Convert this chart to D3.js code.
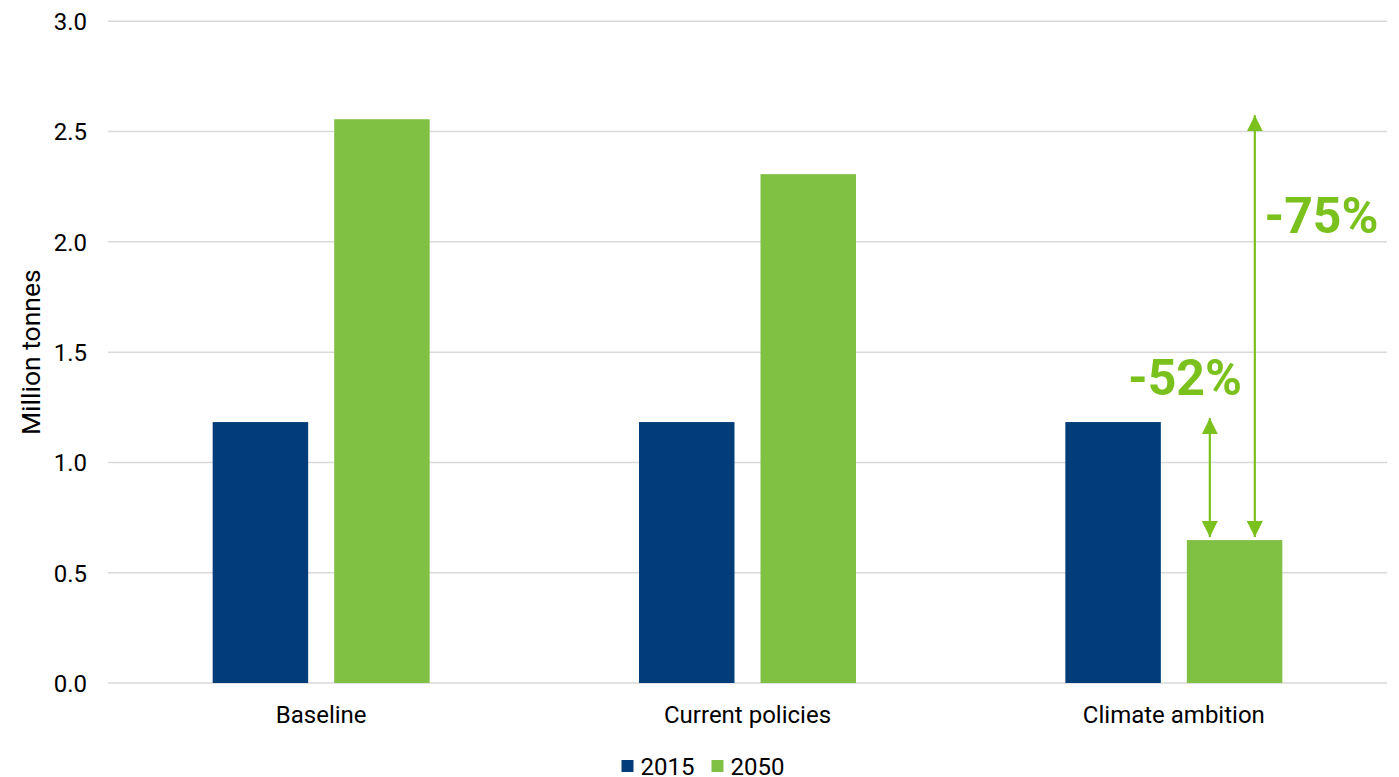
<!DOCTYPE html>
<html>
<head>
<meta charset="utf-8">
<script src="https://cdn.jsdelivr.net/npm/d3@7"></script>
<style>
  html, body { margin: 0; padding: 0; background: #ffffff; }
  svg { display: block; }
  text { font-family: Roboto, "Noto Sans", sans-serif; fill: #000; }
</style>
</head>
<body>
<svg id="chart" width="1399" height="777"></svg>
<script>
// Scenario categories and series
const categories = ["Baseline", "Current policies", "Climate ambition"];
const seriesNames = ["2015", "2050"];
const values2015 = [1.183, 1.183, 1.183];
const values2050 = [2.556, 2.307, 0.648];
const yTicks = [0, 0.5, 1.0, 1.5, 2.0, 2.5, 3.0];
const seriesColors = ["#023D7A", "#80C143"];

// Change annotations on the climate ambition scenario
const changeLabels = ["-52%", "-75%"];

const W = 1399, H = 777;
const margin = { left: 108, right: 12, top: 21.3, bottom: 94 };

const svg = d3.select("#chart");

const x0 = d3.scaleBand()
  .domain(categories)
  .range([margin.left, W - margin.right])
  .paddingInner(0)
  .paddingOuter(0);

const groupWidth = x0.bandwidth() * 0.509;
const x1 = d3.scaleBand()
  .domain(seriesNames)
  .range([0, groupWidth])
  .paddingInner(0.214)
  .paddingOuter(0);

const y = d3.scaleLinear()
  .domain([0, 3])
  .range([H - margin.bottom, margin.top]);

// Gridlines
svg.append("g")
  .selectAll("line")
  .data(yTicks)
  .join("line")
  .attr("x1", margin.left)
  .attr("x2", W - margin.right)
  .attr("y1", d => y(d))
  .attr("y2", d => y(d))
  .attr("stroke", "#d9d9d9")
  .attr("stroke-width", 1.5);

// Y axis labels
const yAxis = d3.axisLeft(y).tickValues(yTicks).tickFormat(d3.format(".1f")).tickSize(0).tickPadding(0);
const yg = svg.append("g").attr("transform", `translate(${87},0)`).call(yAxis);
yg.select(".domain").remove();
yg.selectAll("text")
  .attr("font-family", "Roboto, sans-serif")
  .attr("font-size", 24)
  .attr("fill", "#000")
  .attr("dy", "0.35em");

// Y axis title
svg.append("text")
  .attr("transform", `translate(${39.5},${(y(0) + y(3)) / 2}) rotate(-90)`)
  .attr("text-anchor", "middle")
  .attr("font-size", 26.5)
  .text("Million tonnes");

// Bars
const rows = categories.map((c, i) => ({
  category: c,
  items: [
    { series: seriesNames[0], value: values2015[i] },
    { series: seriesNames[1], value: values2050[i] }
  ]
}));

const groups = svg.append("g")
  .selectAll("g")
  .data(rows)
  .join("g")
  .attr("transform", d => `translate(${x0(d.category) + (x0.bandwidth() - groupWidth) / 2},0)`);

groups.selectAll("rect")
  .data(d => d.items)
  .join("rect")
  .attr("x", d => x1(d.series))
  .attr("width", x1.bandwidth())
  .attr("y", d => y(d.value))
  .attr("height", d => y(0) - y(d.value))
  .attr("fill", (d, i) => seriesColors[i]);

// Category labels
const xAxis = d3.axisBottom(x0).tickSize(0).tickPadding(0);
const xg = svg.append("g").attr("transform", `translate(0,${y(0)})`).call(xAxis);
xg.select(".domain").remove();
xg.selectAll("text")
  .attr("font-family", "Roboto, sans-serif")
  .attr("font-size", 24)
  .attr("fill", "#000")
  .attr("dy", 0)
  .attr("y", 40);

// Legend
const legend = svg.append("g");
const legendX = [621.5, 711.5];
seriesNames.forEach((s, i) => {
  legend.append("rect")
    .attr("x", legendX[i]).attr("y", 760)
    .attr("width", 12).attr("height", 12)
    .attr("fill", seriesColors[i]);
  legend.append("text")
    .attr("x", legendX[i] + 19).attr("y", 775)
    .attr("font-size", 24)
    .text(s);
});

// Change arrows
const annColor = "#7AC11E";
const defs = svg.append("defs");
["start", "end"].forEach(k => {
  defs.append("marker")
    .attr("id", "arrow-" + k)
    .attr("viewBox", "0 0 16 16")
    .attr("refX", 16).attr("refY", 8)
    .attr("markerWidth", 16).attr("markerHeight", 16)
    .attr("markerUnits", "userSpaceOnUse")
    .attr("orient", "auto-start-reverse")
    .append("path")
    .attr("d", "M0,0 L16,8 L0,16 Z")
    .attr("fill", annColor);
});

const climate = categories[2];
const gx = x0(climate) + (x0.bandwidth() - groupWidth) / 2;
const bar2050Left = gx + x1(seriesNames[1]);
const arrows = [
  { x: bar2050Left + 23, from: values2015[2], to: values2050[2], label: changeLabels[0] },
  { x: bar2050Left + 68, from: values2050[0], to: values2050[2], label: changeLabels[1] }
];

arrows.forEach((a, i) => {
  svg.append("line")
    .attr("x1", a.x).attr("x2", a.x)
    .attr("y1", y(a.from) - 4)
    .attr("y2", y(a.to) - 3)
    .attr("stroke", annColor)
    .attr("stroke-width", 2.2)
    .attr("marker-start", "url(#arrow-start)")
    .attr("marker-end", "url(#arrow-end)");
});

svg.append("text")
  .attr("x", 1185).attr("y", 395)
  .attr("text-anchor", "middle")
  .attr("font-family", "'Liberation Sans', Arial, sans-serif")
  .attr("font-weight", "bold")
  .attr("font-size", 50)
  .style("fill", annColor)
  .text(arrows[0].label);

svg.append("text")
  .attr("x", 1321.5).attr("y", 233)
  .attr("text-anchor", "middle")
  .attr("font-family", "'Liberation Sans', Arial, sans-serif")
  .attr("font-weight", "bold")
  .attr("font-size", 50)
  .style("fill", annColor)
  .text(arrows[1].label);
</script>
</body>
</html>
